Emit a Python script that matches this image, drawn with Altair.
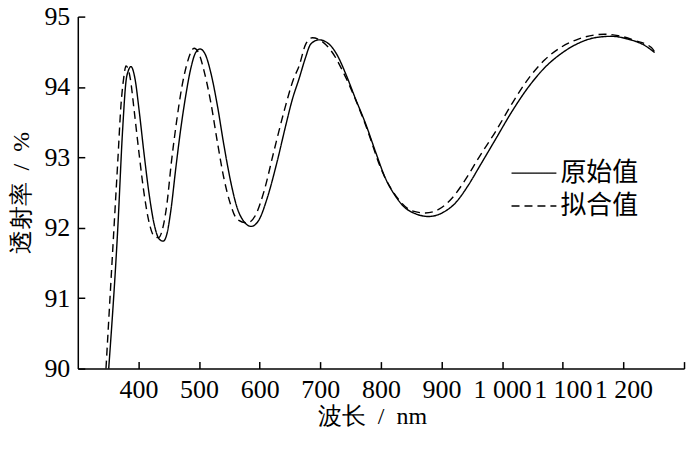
import altair as alt
import pandas as pd

# 原始值 (measured)
wl_raw = [351, 366, 374, 379.5, 383.3, 387.7, 394.3, 401.4, 409.6, 417.8, 426, 434.3, 440.8,
          446.9, 453.4, 461.7, 469.9, 478.1, 486.3, 494.5, 501.7, 511, 519.2, 530.2, 541.1,
          552.1, 563, 574, 586, 598.7, 612.4, 628.8, 643.2, 654.1, 665.1, 675, 684.3, 698,
          714.4, 728.1, 741.8, 758.2, 774.7, 791.1, 807.6, 824, 840.4, 856.9, 878.8, 900.7,
          922.6, 944.6, 961.2, 988.6, 1016, 1043.4, 1070.8, 1098.2, 1125.6, 1153, 1180.4,
          1207.8, 1235.2, 1251.6]
t_raw = [90.0, 92.0, 93.4, 94.08, 94.23, 94.29, 94.12, 93.65, 93.03, 92.47, 92.05, 91.84, 91.81,
         91.91, 92.24, 92.85, 93.41, 93.88, 94.26, 94.49, 94.54, 94.45, 94.21, 93.74, 93.17,
         92.66, 92.28, 92.09, 92.02, 92.11, 92.42, 92.94, 93.46, 93.83, 94.12, 94.40, 94.61, 94.67,
         94.61, 94.45, 94.19, 93.83, 93.48, 93.08, 92.70, 92.45, 92.28, 92.20, 92.16, 92.21,
         92.35, 92.61, 92.85, 93.25, 93.65, 94.00, 94.28, 94.48, 94.62, 94.70, 94.72,
         94.68, 94.59, 94.49]

# 拟合值 (fitted)
wl_fit = [346.5, 359.7, 366, 371.2, 375.6, 379.5, 386.6, 393.2, 401.4, 409.6, 417.8, 426, 433.2,
          439.7, 446.9, 454.5, 462.8, 471, 479.2, 486.3, 491.8, 500, 508.2, 519.2, 530.2,
          541.1, 552.1, 563, 579.5, 593.2, 606.9, 623.3, 639.8, 656.2, 665.1, 676, 687, 700.7,
          719.9, 741.8, 774.7, 802.1, 829.5, 851.4, 873.3, 895.2, 917.2, 939.1, 961, 988.6,
          1016, 1043.4, 1070.8, 1098.2, 1125.6, 1153, 1169.4, 1191.4, 1218.8, 1246.2, 1251.6]
t_fit = [90.0, 92.0, 92.95, 93.74, 94.12, 94.30, 94.12, 93.65, 93.03, 92.47, 92.07, 91.88, 91.86,
         91.98, 92.33, 92.94, 93.50, 93.97, 94.30, 94.49, 94.55, 94.47, 94.23, 93.79, 93.22,
         92.70, 92.33, 92.12, 92.07, 92.18, 92.51, 93.08, 93.64, 94.12, 94.30, 94.61, 94.70, 94.66,
         94.49, 94.14, 93.46, 92.80, 92.40, 92.24, 92.21, 92.26, 92.42, 92.68, 92.99, 93.36,
         93.76, 94.12, 94.39, 94.57, 94.68, 94.74, 94.75, 94.73, 94.66, 94.56, 94.50]

series_names = ["原始值", "拟合值"]
x_ticks = [400, 500, 600, 700, 800, 900, 1000, 1100, 1200, 1300]
y_ticks = [90, 91, 92, 93, 94, 95]
x_title = "波长\u2002/\u2002nm"
y_title = "透射率\u2002/\u2002%"

df = pd.concat([
    pd.DataFrame({"wl": wl_raw, "t": t_raw, "series": series_names[0]}),
    pd.DataFrame({"wl": wl_fit, "t": t_fit, "series": series_names[1]}),
])

FONT = "Liberation Serif"
CJK = "Noto Sans CJK SC"

chart = alt.Chart(df).mark_line(color="black", strokeWidth=1.4, interpolate="monotone").encode(
    x=alt.X("wl:Q",
            scale=alt.Scale(domain=[300, 1300], nice=False, zero=False),
            axis=alt.Axis(values=x_ticks, title=x_title,
                          labelExpr="datum.value > 1250 ? '' : replace(format(datum.value, ','), ',', ' ')",
                          titleX=295, titleY=48, titleBaseline="middle")),
    y=alt.Y("t:Q",
            scale=alt.Scale(domain=[90, 95], nice=False, zero=False),
            axis=alt.Axis(values=y_ticks, title=y_title, format="d",
                          titleX=-56, titleY=176.5, titleBaseline="middle")),
    strokeDash=alt.StrokeDash("series:N",
        scale=alt.Scale(domain=series_names, range=[[1, 0], [8, 5]]),
        legend=alt.Legend(title=None, orient="none", legendX=434, legendY=144,
                          direction="vertical", symbolType="stroke", symbolSize=2025,
                          symbolStrokeWidth=1.4, symbolStrokeColor="black",
                          labelFont=CJK, labelFontSize=26, labelColor="black",
                          labelOffset=3, rowPadding=7, padding=0, clipHeight=26)),
).properties(
    width=608, height=353,
    autosize=alt.AutoSizeParams(type="none"),
    padding={"left": 70, "top": 8, "right": 8, "bottom": 70},
).configure_axis(
    grid=False,
    domainColor="black", domainWidth=1.5,
    tickColor="black", tickWidth=1.5, tickSize=alt.ExprRef("-7"),
    labelFont=FONT, labelFontSize=26, labelColor="black", labelPadding=15,
    titleFont=FONT, titleFontSize=24, titleFontWeight="normal", titleColor="black",
).configure_view(stroke=None)

chart.save("out.html", embed_options={"renderer": "svg", "actions": False})
